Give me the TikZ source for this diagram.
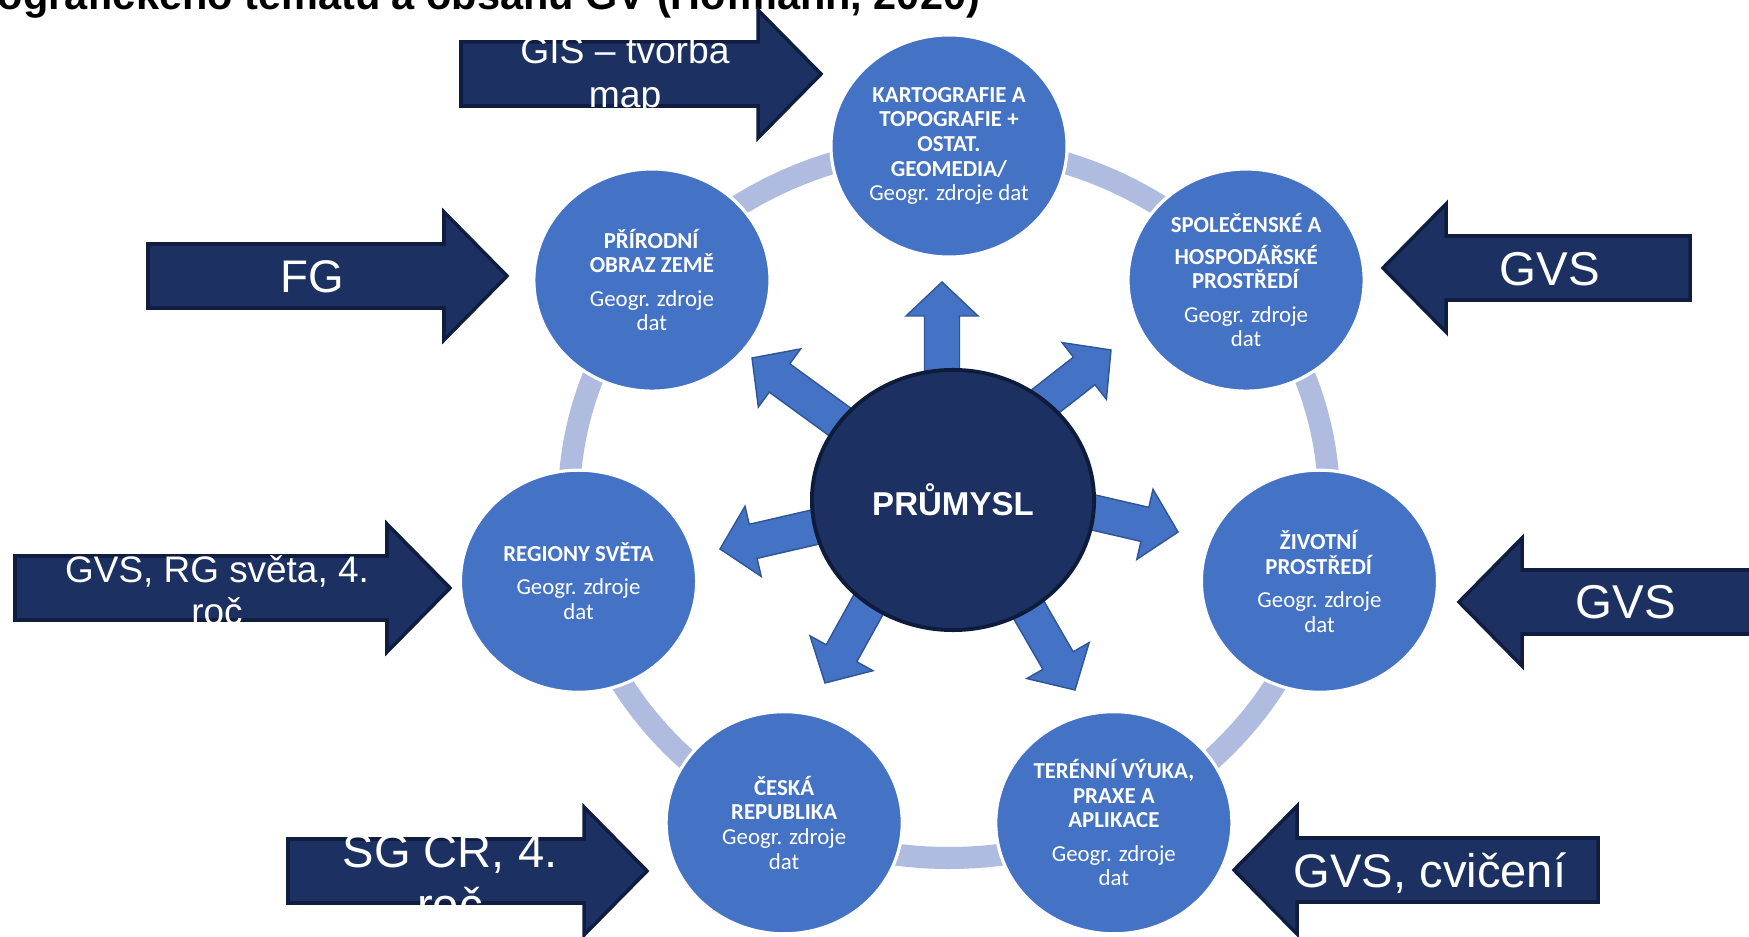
\documentclass[tikz,border=0pt]{standalone}
\usepackage{fontspec}
\setmainfont{Liberation Sans}
\newfontfamily\circfont{Carlito}
\usepackage{tikz}
\usetikzlibrary{positioning}
\usetikzlibrary{calc,shapes.geometric}

\definecolor{topicblue}{HTML}{4472C4}
\definecolor{hubnavy}{HTML}{1C3161}
\definecolor{hubedge}{HTML}{0E1C3C}
\definecolor{ringblue}{HTML}{AFBCDF}
\definecolor{spokeedge}{HTML}{2F5597}
\definecolor{banneredge}{HTML}{0F1D40}

\tikzset{
	topic/.style={ellipse, fill=topicblue, draw=white, line width=0.9pt,
		minimum width=2.36cm, minimum height=2.22cm, inner sep=0pt,
		align=center, text=white, font=\circfont\fontsize{6.5}{7}\selectfont},
	hub/.style={ellipse, fill=hubnavy, draw=hubedge, line width=1.1pt,
		minimum width=2.82cm, minimum height=2.60cm, text=white,
		font=\bfseries\fontsize{9.4}{11}\selectfont},
	ring/.style={draw=ringblue, line width=0.22cm},
	spokebody/.style={fill=topicblue, draw=spokeedge, line width=0.4pt},
	bannerbody/.style={fill=hubnavy, draw=banneredge, line width=1pt},
	bannertext/.style={text=white, align=center, inner sep=0pt},
	% small blue arrow, tip at the origin, pointing along +x
	pics/spokearrow/.style={code={
		\path[spokebody] (0,0) -- (-34,36) -- (-34,17.5) -- (-160,17.5)
			-- (-160,-17.5) -- (-34,-17.5) -- (-34,-36) -- cycle;
	}},
	% big navy arrow, tip at the origin, #1 = full length
	pics/banner/.style={code={
		\path[bannerbody] (0,0) -- (-63,64) -- (-63,32) -- (-#1,32)
			-- (-#1,-32) -- (-63,-32) -- (-63,-64) -- cycle;
	}},
}

\begin{document}
\begin{tikzpicture}[x=0.01cm, y=0.01cm]

	% Proper size --- Bounding box
	\useasboundingbox (0,0) rectangle (1749,936);
	\fill[white] (0,0) rectangle (1749,936);

	% Title (cut by the top edge)
	\node[anchor=base west, inner sep=0pt, font=\bfseries\fontsize{11.8}{14}\selectfont] (title)
		at (-3,926) {ografického tématu a obsahu GV (Hofmann, 2020)};

	% Centre of the ring
	\coordinate (R) at (949,434);

	% ------------------------------------------------
	% RING AND TOPICS
	% ------------------------------------------------
	\draw[ring] (R) ellipse [x radius=380, y radius=356];

	\node[topic] (kart) at ($(R)+(90:380 and 356)$)
		{\textbf{KARTOGRAFIE A}\\ \textbf{TOPOGRAFIE +}\\ \textbf{OSTAT.}\\ \textbf{GEOMEDIA/}\\ Geogr. zdroje dat};
	\node[topic] (spol) at ($(R)+(38.57:380 and 356)$)
		{\textbf{SPOLEČENSKÉ A}\\[2pt] \textbf{HOSPODÁŘSKÉ}\\ \textbf{PROSTŘEDÍ}\\[2.5pt] Geogr. zdroje\\ dat};
	\node[topic] (ziv) at ($(R)+(-12.86:380 and 356)$)
		{\textbf{ŽIVOTNÍ}\\ \textbf{PROSTŘEDÍ}\\[2.5pt] Geogr. zdroje\\ dat};
	\node[topic] (teren) at ($(R)+(-64.29:380 and 356)$)
		{\textbf{TERÉNNÍ VÝUKA,}\\ \textbf{PRAXE A}\\ \textbf{APLIKACE}\\[2.5pt] Geogr. zdroje\\ dat};
	\node[topic] (cr) at ($(R)+(-115.71:380 and 356)$)
		{\textbf{ČESKÁ}\\ \textbf{REPUBLIKA}\\ Geogr. zdroje\\ dat};
	\node[topic] (reg) at ($(R)+(-167.14:380 and 356)$)
		{\textbf{REGIONY SVĚTA}\\[2.5pt] Geogr. zdroje\\ dat};
	\node[topic] (prir) at ($(R)+(141.43:380 and 356)$)
		{\textbf{PŘÍRODNÍ}\\ \textbf{OBRAZ ZEMĚ}\\[2.5pt] Geogr. zdroje\\ dat};

	% ------------------------------------------------
	% HUB WITH SPOKES
	% ------------------------------------------------
	\pic[rotate=90]   at (942,654)  {spokearrow};
	\pic[rotate=38]   at (1111,586) {spokearrow};
	\pic[rotate=-13]  at (1178,404) {spokearrow};
	\pic[rotate=-60]  at (1075,246) {spokearrow};
	\pic[rotate=-119] at (825,253)  {spokearrow};
	\pic[rotate=-167] at (720,387)  {spokearrow};
	\pic[rotate=144]  at (752,578)  {spokearrow};

	\node[hub] (prum) at (953,436) {PRŮMYSL};

	% ------------------------------------------------
	% SUBJECT ARROWS
	% ------------------------------------------------
	\pic             at (821,862)  {banner=360};
	\pic             at (507,660)  {banner=359};
	\pic[rotate=180] at (1383,668) {banner=307};
	\pic             at (450,348)  {banner=435};
	\pic[rotate=180] at (1459,334) {banner=321};
	\pic             at (647,65)   {banner=359};
	\pic[rotate=180] at (1234,66)  {banner=364};

	\node[bannertext, font=\fontsize{10.6}{12.7}\selectfont] (gis)   at (625,860)  {GIS – tvorba\\map};
	\node[bannertext, font=\fontsize{13}{15}\selectfont]     (fg)    at (312,659)  {FG};
	\node[bannertext, font=\fontsize{13.5}{15}\selectfont]   (gvsA)  at (1550,667) {GVS};
	\node[bannertext, font=\fontsize{10.5}{12}\selectfont]   (gvsrg) at (217,346)  {GVS, RG světa, 4.\\roč};
	\node[bannertext, font=\fontsize{13.5}{15}\selectfont]   (gvsB)  at (1626,334) {GVS};
	\node[bannertext, font=\fontsize{13.4}{15.2}\selectfont] (sgcr)  at (450,62)   {SG ČR, 4.\\roč};
	\node[bannertext, font=\fontsize{13.4}{15}\selectfont]   (gvscv) at (1430,63)  {GVS, cvičení};

\end{tikzpicture}
\end{document}
